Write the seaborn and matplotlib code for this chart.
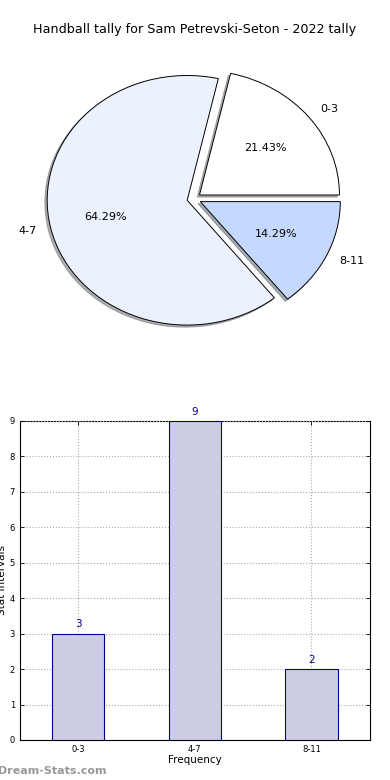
import matplotlib
matplotlib.use('Agg')

import matplotlib.pyplot as plt
import seaborn as sns

sns.set_style('white')
plt.rcParams['font.family'] = ['DejaVu Sans']
plt.rcParams['text.color'] = 'black'
plt.rcParams['axes.labelcolor'] = 'black'
plt.rcParams['xtick.color'] = 'black'
plt.rcParams['ytick.color'] = 'black'

# data
categories = ['0-3', '4-7', '8-11']
counts = [3, 9, 2]
pie_colors = ['#ffffff', '#ebf1fd', '#c5d8fe']
explode = [0.05, 0.05, 0.05]

fig = plt.figure(figsize=(3.9, 7.8), dpi=100)

fig.text(0.5, 1 - 30 / 780, 'Handball tally for Sam Petrevski-Seton - 2022 tally',
         ha='center', va='center', fontsize=9.2)

# pie (stretched like the old non-equal pie)
ax1 = fig.add_axes([(194 - 175) / 390, 0.745 - 0.2, 350 / 390, 0.4])
wedges, texts, autotexts = ax1.pie(
    counts, labels=categories, colors=pie_colors, explode=explode,
    autopct='%1.2f%%', startangle=0, counterclock=True,
    shadow={'ox': -0.012, 'oy': -0.012, 'shade': 0.6},
    wedgeprops={'edgecolor': 'black', 'linewidth': 0.7},
    textprops={'fontsize': 8, 'color': 'black'},
)
ax1.set_aspect('auto')
ax1.set_xlim(-1.25, 1.25)
ax1.set_ylim(-1.25, 1.25)

# bars
ax2 = fig.add_axes([0.051, 0.0513, 0.897, 0.409])
sns.barplot(x=categories, y=counts, color='#ccccE4', edgecolor='#000080',
            linewidth=0.8, width=0.45, saturation=1, ax=ax2, zorder=3)
ax2.set_xlim(-0.5, 2.5)
ax2.set_ylim(0, 9)
ax2.set_yticks(range(0, 10))
ax2.grid(True, linestyle=':', color='#aaaaaa', linewidth=0.8, zorder=0)
ax2.set_axisbelow(False)
for spine in ax2.spines.values():
    spine.set_color('black')
    spine.set_linewidth(0.8)
ax2.tick_params(axis='both', labelsize=6, direction='in', length=3,
                top=True, right=True, bottom=True, left=True, width=0.6)
for i, v in enumerate(counts):
    ax2.text(i, v + 0.12, str(v), ha='center', va='bottom', fontsize=7.5, color='#000080')
ax2.set_xlabel('Frequency', fontsize=7.5, labelpad=1)
ax2.set_ylabel('Stat intervals', fontsize=7.5, labelpad=2)

fig.text(-0.005, 0.005, 'Dream-Stats.com', fontsize=8, color='#999999',
         fontweight='bold', ha='left', va='bottom')

fig.savefig('out.png', dpi=100)
